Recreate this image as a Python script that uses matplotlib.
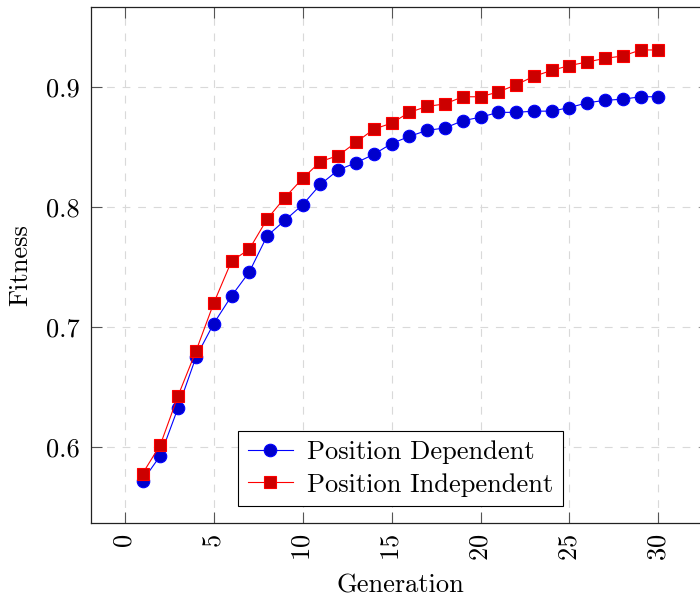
import numpy as np
import matplotlib
matplotlib.use('Agg')
import matplotlib.pyplot as plt

plt.rcParams['font.family'] = 'serif'
plt.rcParams['font.serif'] = ['cmr10', 'DejaVu Serif']
plt.rcParams['mathtext.fontset'] = 'cm'
plt.rcParams['axes.formatter.use_mathtext'] = True

#Data
generation = np.arange(1, 31)

fitness_dependent = [0.572, 0.593, 0.633, 0.675, 0.703, 0.726, 0.746, 0.776, 0.789, 0.802,
                     0.819, 0.831, 0.837, 0.844, 0.853, 0.859, 0.864, 0.866, 0.872, 0.875,
                     0.879, 0.879, 0.880, 0.880, 0.883, 0.887, 0.889, 0.890, 0.892, 0.892]

fitness_independent = [0.578, 0.602, 0.643, 0.680, 0.720, 0.755, 0.765, 0.790, 0.808, 0.824,
                       0.838, 0.843, 0.854, 0.865, 0.870, 0.879, 0.884, 0.886, 0.892, 0.892,
                       0.896, 0.902, 0.909, 0.914, 0.918, 0.921, 0.924, 0.926, 0.931, 0.931]

x_ticks = [0, 5, 10, 15, 20, 25, 30]
y_ticks = [0.6, 0.7, 0.8, 0.9]

fs = 19

fig = plt.figure(figsize=(7, 6), dpi=100)
ax = fig.add_axes([91/700, 77/600, 619/700, 516/600])

ax.plot(generation, fitness_dependent, color='#0000ff', lw=0.8, marker='o',
        markersize=9, markerfacecolor='#0000cc', markeredgecolor='#0000ff',
        markeredgewidth=0.8, label='Position Dependent', zorder=3)
ax.plot(generation, fitness_independent, color='#ff0000', lw=0.8, marker='s',
        markersize=8.5, markerfacecolor='#cc0000', markeredgecolor='#ff0000',
        markeredgewidth=0.8, label='Position Independent', zorder=3)

#pgfplots style limits (10% enlargement)
ax.set_xlim(-1.9, 32.9)
ax.set_ylim(0.5368, 0.9668)

ax.set_xticks(x_ticks)
ax.set_yticks(y_ticks)
ax.set_yticklabels([f'{v:.1f}' for v in y_ticks])
ax.tick_params(axis='both', direction='in', length=8, width=0.8, color='#555555',
               labelsize=fs, top=True, right=True, pad=8)
ax.tick_params(axis='x', labelrotation=90)

ax.grid(True, color='#d9d9d9', lw=0.8, linestyle=(0, (7, 7)))
ax.set_axisbelow(True)

for sp in ax.spines.values():
    sp.set_linewidth(0.9)
    sp.set_color('#222222')

ax.set_xlabel('Generation', fontsize=fs, labelpad=9)
ax.set_ylabel('Fitness', fontsize=fs, labelpad=10)

leg = ax.legend(loc='lower center', bbox_to_anchor=(0.5, 0.033), borderaxespad=0,
                fontsize=fs, fancybox=False, framealpha=1, edgecolor='black',
                handlelength=1.7, handletextpad=0.55, labelspacing=0.35,
                borderpad=0.35)
leg.get_frame().set_linewidth(0.8)

fig.savefig('out.png', dpi=100)
